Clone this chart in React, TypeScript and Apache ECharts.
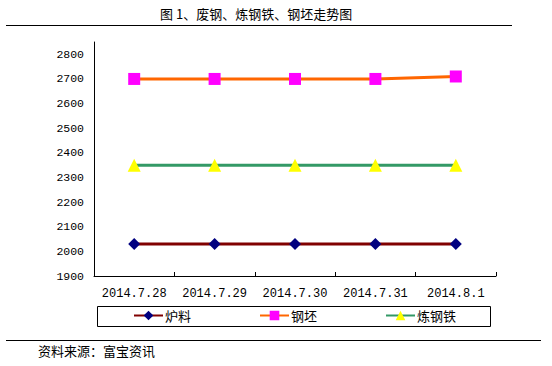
import React, { useEffect, useRef } from "react";
import * as echarts from "echarts";

const categories = ["2014.7.28", "2014.7.29", "2014.7.30", "2014.7.31", "2014.8.1"];
const luliao = [2030, 2030, 2030, 2030, 2030];
const gangpi = [2700, 2700, 2700, 2700, 2710];
const liangangtie = [2350, 2350, 2350, 2350, 2350];
const seriesNames = ["炉料", "钢坯", "炼钢铁"];
const titleText = "图 1、废钢、炼钢铁、钢坯走势图";
const sourceText = "资料来源：富宝资讯";

const CJK = '"SimSun", "Noto Sans CJK SC", sans-serif';
const MONO = '"Liberation Mono", "DejaVu Sans Mono", monospace';

export default function App() {
  const ref = useRef<HTMLDivElement>(null);
  useEffect(() => {
    if (!ref.current) return;
    const chart = echarts.init(ref.current, null, { renderer: "svg" });
    chart.setOption({
      animation: false,
      backgroundColor: "#ffffff",
      grid: { left: 94, right: 56, top: 42, bottom: 90 },
      xAxis: {
        type: "category",
        data: categories,
        boundaryGap: true,
        axisLine: { lineStyle: { color: "#000", width: 1 } },
        axisTick: { show: true, inside: true, length: 4, interval: 0, lineStyle: { color: "#000" } },
        axisLabel: { color: "#000", fontFamily: MONO, fontSize: 12, margin: 12, interval: 0 },
        splitLine: { show: false },
      },
      yAxis: {
        type: "value",
        min: 1900,
        max: 2850,
        interval: 100,
        axisLine: { show: true, lineStyle: { color: "#000", width: 1 } },
        axisTick: { show: false },
        splitLine: { show: false },
        axisLabel: {
          color: "#000",
          fontFamily: MONO,
          fontSize: 11.5,
          margin: 10,
          showMaxLabel: false,
          formatter: (v: number) => (v > 2800 ? "" : String(v)),
        },
      },
      legend: {
        left: 133,
        top: 309,
        itemWidth: 29,
        itemHeight: 12,
        itemGap: 68,
        padding: 0,
        textStyle: { color: "#000", fontFamily: CJK, fontSize: 13, padding: [0, 0, 0, -3] },
        data: seriesNames,
      },
      series: [
        {
          name: seriesNames[0],
          type: "line",
          data: luliao,
          symbol: "diamond",
          symbolSize: 12,
          itemStyle: { color: "#000080" },
          lineStyle: { color: "#800000", width: 3 },
        },
        {
          name: seriesNames[1],
          type: "line",
          data: gangpi,
          symbol: "rect",
          symbolSize: 12,
          itemStyle: { color: "#FF00FF" },
          lineStyle: { color: "#FF6600", width: 3 },
        },
        {
          name: seriesNames[2],
          type: "line",
          data: liangangtie,
          symbol: "triangle",
          symbolSize: 13,
          itemStyle: { color: "#FFFF00" },
          lineStyle: { color: "#339966", width: 3 },
        },
      ],
      graphic: [
        {
          type: "text",
          left: 160,
          top: 7,
          style: { text: titleText, fill: "#000", font: `13px ${CJK}` },
        },
        {
          type: "line",
          shape: { x1: 6, y1: 25.5, x2: 512, y2: 25.5 },
          style: { stroke: "#000", lineWidth: 1 },
        },
        {
          type: "rect",
          shape: { x: 97.5, y: 306.5, width: 393, height: 20 },
          style: { fill: "none", stroke: "#000", lineWidth: 1 },
        },
        {
          type: "line",
          shape: { x1: 6, y1: 340.5, x2: 541, y2: 340.5 },
          style: { stroke: "#000", lineWidth: 1 },
        },
        {
          type: "text",
          left: 38,
          top: 344,
          style: { text: sourceText, fill: "#000", font: `13px ${CJK}` },
        },
      ],
    });
    return () => chart.dispose();
  }, []);
  return (
    <div
      ref={ref}
      style={{ position: "absolute", left: 0, top: 0, width: 552, height: 366 }}
    />
  );
}
